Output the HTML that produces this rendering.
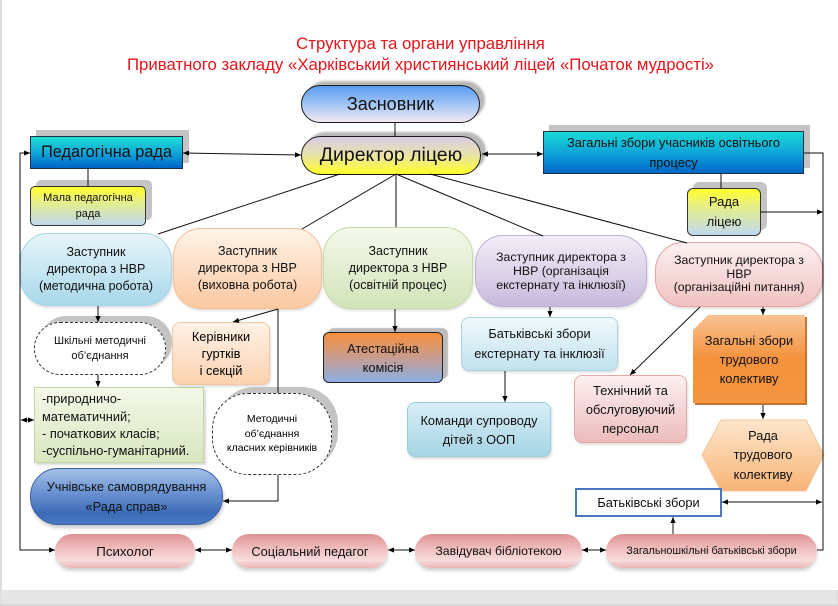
<!DOCTYPE html>
<html><head><meta charset="utf-8">
<style>
*{margin:0;padding:0;box-sizing:border-box}
body{width:838px;height:606px;position:relative;background:#fff;font-family:"Liberation Sans","DejaVu Sans",sans-serif;color:#111;overflow:hidden}
.b{position:absolute;display:flex;flex-direction:column;align-items:center;justify-content:center;text-align:center;z-index:2}
.t{position:absolute;left:0;width:841px;text-align:center;color:#e2161c;font-size:16.8px;line-height:21px;z-index:2}
.dep{border-radius:28px;font-size:12.5px;line-height:17px;box-shadow:1px 2px 2px rgba(0,0,0,.12)}
.pill{top:534px;height:34px;border-radius:17px;background:linear-gradient(#dc9292,#efbcbc 40%,#f8dcdc 78%,#eab4b4);box-shadow:0 3px 3px rgba(0,0,0,.18);font-size:12.8px}
</style></head><body>
<div style="position:absolute;left:0;top:0;width:2px;height:590px;background:#dcdcdc"></div>
<div style="position:absolute;left:0;top:590px;width:838px;height:16px;background:#e6e6e6;box-shadow:0 -1px 2px rgba(0,0,0,.12) inset"></div>

<div class="t" style="top:33px">Структура та органи управління<br>Приватного закладу «Харківський християнський ліцей «Початок мудрості»</div>

<svg style="position:absolute;left:0;top:0;z-index:1" width="838" height="606">
<defs>
<linearGradient id="hx" x1="0" y1="0" x2="0" y2="1"><stop offset="0" stop-color="#fde6cc"/><stop offset="1" stop-color="#f8b476"/></linearGradient>
<linearGradient id="sn" x1="0" y1="0" x2="0" y2="1"><stop offset="0" stop-color="#f9c292"/><stop offset=".5" stop-color="#f4923c"/><stop offset="1" stop-color="#f49540"/></linearGradient>
</defs>
<polygon points="710,317 807,317 807,405 695,405 695,332" fill="#c8742e"/>
<polygon points="708,315 805,315 805,403 693,403 693,330" fill="url(#sn)"/>
<polygon points="702,455 721,420 806,420 824,455 806,491 721,491" fill="url(#hx)" stroke="#f4c49a" stroke-width="1"/>
</svg>

<!-- top -->
<div class="b" style="left:301px;top:85px;width:179px;height:38px;border-radius:19px;border:1.5px solid #1a1a1a;background:linear-gradient(#5a9cf0,#a8c8f4 55%,#f4e8f4);box-shadow:5px -4px 2px #b8b8b8;font-size:18px">Засновник</div>
<div class="b" style="left:301px;top:136px;width:180px;height:39px;border-radius:20px;border:1.5px solid #1a1a1a;background:linear-gradient(#d8cce4,#e8e0b0 45%,#ffff2a);box-shadow:5px -4px 2px #b8b8b8;font-size:19.5px">Директор ліцею</div>

<div class="b" style="left:30px;top:136px;width:153px;height:33px;border:1px solid #203040;background:linear-gradient(#1ee0d4,#10a8d8 50%,#0064c8);box-shadow:6px -6px 0 #c4c4c4;font-size:16.3px">Педагогічна рада</div>
<div class="b" style="left:30px;top:186px;width:116px;height:40px;border-radius:5px;border:1px solid #333;background:linear-gradient(#ffff2a,#e8f080 35%,#c0d8f0);box-shadow:6px -6px 0 #c4c4c4;font-size:11px;line-height:16px">Мала педагогічна<br>рада</div>

<div class="b" style="left:543px;top:131px;width:261px;height:43px;border:1px solid #223040;background:linear-gradient(#18dad6,#10a4d8 50%,#0066c8);box-shadow:6px -6px 0 #c4c4c4;font-size:12.8px;line-height:20px">Загальні збори учасників освітнього<br>процесу</div>
<div class="b" style="left:687px;top:188px;width:74px;height:48px;border-radius:6px;border:1px solid #333;background:linear-gradient(#ffff2a,#e8f080 35%,#c0d8f0);box-shadow:6px -6px 0 #c4c4c4;font-size:13px;line-height:20px">Рада<br>ліцею</div>

<!-- deputies -->
<div class="b dep" style="left:20px;top:233px;width:152px;height:73px;border:1px solid #a4d4e8;background:linear-gradient(#e8f5fb,#a8d8ea)">Заступник<br>директора з НВР<br>(методична робота)</div>
<div class="b dep" style="left:173px;top:228px;width:149px;height:81px;border:1px solid #f6bc96;background:linear-gradient(#fff3e8,#fbc9a2)">Заступник<br>директора з НВР<br>(виховна робота)</div>
<div class="b dep" style="left:323px;top:227px;width:150px;height:82px;border:1px solid #c4dca4;background:linear-gradient(#f4f8ec,#d2e4b8)">Заступник<br>директора з НВР<br>(освітній процес)</div>
<div class="b dep" style="left:475px;top:235px;width:172px;height:72px;border:1px solid #bcaed4;background:linear-gradient(#f2eef7,#c8badc);line-height:14px;font-size:12.3px">Заступник директора з<br>НВР (організація<br>екстернату та інклюзії)</div>
<div class="b dep" style="left:655px;top:242px;width:168px;height:65px;border:1px solid #e2a4a4;background:linear-gradient(#fdf0f0,#f0c2c2);line-height:13.5px;font-size:12.3px">Заступник директора з<br>НВР<br>(організаційні питання)</div>

<!-- second level -->
<div class="b" style="left:34px;top:322px;width:132px;height:53px;border-radius:26px;border:1.3px dashed #333;background:#fff;box-shadow:6px -6px 0 #c4c4c4;font-size:11px;line-height:15px">Шкільні методичні<br>об’єднання</div>
<div class="b" style="left:34px;top:387px;width:170px;height:76px;border:1px solid #c4d8a4;background:linear-gradient(#f4f8e8,#d8e6c0);box-shadow:2px 2px 2px rgba(0,0,0,.15);font-size:12.8px;line-height:17.4px;align-items:flex-start;text-align:left;padding-left:7px">-природничо-<br>математичний;<br>- початкових класів;<br>-суспільно-гуманітарний.</div>
<div class="b" style="left:172px;top:322px;width:98px;height:63px;border-radius:8px;border:1px solid #f4c6a4;background:linear-gradient(#fff2e6,#fcd2b0);box-shadow:1px 2px 2px rgba(0,0,0,.12);font-size:12.8px;line-height:17px;color:#000">Керівники<br>гуртків<br>і секцій</div>
<div class="b" style="left:212px;top:393px;width:120px;height:82px;border-radius:36px;border:1.3px dashed #333;background:#fff;box-shadow:6px -6px 0 #c4c4c4;font-size:10.5px;line-height:14.5px;color:#000">Методичні<br>об’єднання<br>класних керівників</div>
<div class="b" style="left:30px;top:468px;width:193px;height:57px;border-radius:28px;border:1px solid #3a62a4;background:linear-gradient(#a4c0e8,#6890d0 45%,#3c6cb8 80%,#4a78c0);box-shadow:1px 3px 3px rgba(0,0,0,.2);font-size:12.8px;line-height:20px">Учнівське самоврядування<br>«Рада справ»</div>

<div class="b" style="left:323px;top:332px;width:120px;height:51px;border-radius:6px;border:1.5px solid #222;background:linear-gradient(#f7903c,#c89c90 50%,#8cb0e4);box-shadow:5px -4px 1px #bbb;font-size:12.8px;line-height:19px">Атестаційна<br>комісія</div>
<div class="b" style="left:461px;top:317px;width:157px;height:54px;border-radius:8px;border:1px solid #a8d4e4;background:linear-gradient(#f0f8fc,#c2e2ee);box-shadow:1px 2px 2px rgba(0,0,0,.12);font-size:12.8px;line-height:20px">Батьківські збори<br>екстернату та інклюзії</div>
<div class="b" style="left:407px;top:402px;width:144px;height:55px;border-radius:8px;border:1px solid #9ccede;background:linear-gradient(#d8eef6,#a6d4e4);box-shadow:1px 2px 2px rgba(0,0,0,.15);font-size:12.8px;line-height:19px">Команди супроводу<br>дітей з ООП</div>
<div class="b" style="left:574px;top:375px;width:113px;height:68px;border-radius:8px;border:1px solid #e2a8a8;background:linear-gradient(#fdf0f0,#ecbcbc);box-shadow:1px 2px 2px rgba(0,0,0,.12);font-size:12.8px;line-height:19px">Технічний та<br>обслуговуючий<br>персонал</div>
<div class="b" style="left:693px;top:315px;width:112px;height:88px;font-size:12.8px;line-height:19px">Загальні збори<br>трудового<br>колективу</div>
<div class="b" style="left:702px;top:419px;width:122px;height:72px;font-size:12.8px;line-height:19.5px">Рада<br>трудового<br>колективу</div>
<div class="b" style="left:575px;top:488px;width:147px;height:29px;border:2px solid #4a78c0;background:#fff;font-size:12.8px">Батьківські збори</div>

<!-- bottom row -->
<div class="b pill" style="left:55px;width:140px;font-size:13.3px">Психолог</div>
<div class="b pill" style="left:232px;width:156px">Соціальний педагог</div>
<div class="b pill" style="left:415px;width:167px;font-size:12.3px">Завідувач бібліотекою</div>
<div class="b pill" style="left:606px;width:211px;font-size:10.8px">Загальношкільні батьківські збори</div>

<!-- connectors -->
<svg style="position:absolute;left:0;top:0;z-index:3;pointer-events:none" width="838" height="606">
<defs>
<marker id="a" viewBox="0 0 8 8" refX="8" refY="4" markerWidth="7" markerHeight="6" orient="auto-start-reverse" markerUnits="userSpaceOnUse"><path d="M0,0.5 L8,4 L0,7.5z" fill="#000"/></marker>
</defs>
<g stroke="#111" stroke-width="1" fill="none">
<line x1="395" y1="123" x2="395" y2="136"/>
<line x1="88" y1="169" x2="88" y2="186"/>
<line x1="721" y1="174" x2="721" y2="188"/>
<line x1="340" y1="174" x2="158" y2="234"/>
<line x1="396" y1="174" x2="302" y2="229"/>
<line x1="396" y1="174" x2="396" y2="227"/>
<line x1="396" y1="174" x2="543" y2="236"/>
<line x1="430" y1="174" x2="687" y2="243"/>
<line x1="183" y1="153" x2="301" y2="155" marker-start="url(#a)" marker-end="url(#a)"/>
<line x1="482" y1="154" x2="543" y2="154" marker-start="url(#a)" marker-end="url(#a)"/>
<polyline points="55,550 20,550 20,153 30,153" marker-end="url(#a)"/>
<line x1="20" y1="550" x2="55" y2="550" marker-end="url(#a)"/>
<line x1="21" y1="420" x2="34" y2="420" marker-start="url(#a)" marker-end="url(#a)"/>
<polyline points="804,153 823,153 823,550 817,550"/>
<line x1="761" y1="212" x2="823" y2="212" marker-end="url(#a)"/>
<line x1="722" y1="502" x2="822" y2="502" marker-start="url(#a)" marker-end="url(#a)"/>
<line x1="98" y1="306" x2="98" y2="322" marker-end="url(#a)"/>
<line x1="98" y1="375" x2="98" y2="387" marker-end="url(#a)"/>
<line x1="278" y1="309" x2="233" y2="322" marker-end="url(#a)"/>
<line x1="278" y1="309" x2="278" y2="393"/>
<polyline points="278,475 278,501 223,501" marker-end="url(#a)"/>
<line x1="395" y1="309" x2="395" y2="332" marker-end="url(#a)"/>
<line x1="550" y1="307" x2="550" y2="317" marker-end="url(#a)"/>
<line x1="505" y1="371" x2="505" y2="402" marker-end="url(#a)"/>
<line x1="700" y1="307" x2="630" y2="375" marker-end="url(#a)"/>
<line x1="763" y1="307" x2="763" y2="315" marker-end="url(#a)"/>
<line x1="763" y1="405" x2="763" y2="419" marker-end="url(#a)"/>
<line x1="673" y1="534" x2="673" y2="517" marker-end="url(#a)"/>
<line x1="195" y1="550" x2="232" y2="550" marker-start="url(#a)" marker-end="url(#a)"/>
<line x1="388" y1="550" x2="415" y2="550" marker-start="url(#a)" marker-end="url(#a)"/>
<line x1="582" y1="550" x2="606" y2="550" marker-start="url(#a)" marker-end="url(#a)"/>
</g>
</svg>
</body></html>
